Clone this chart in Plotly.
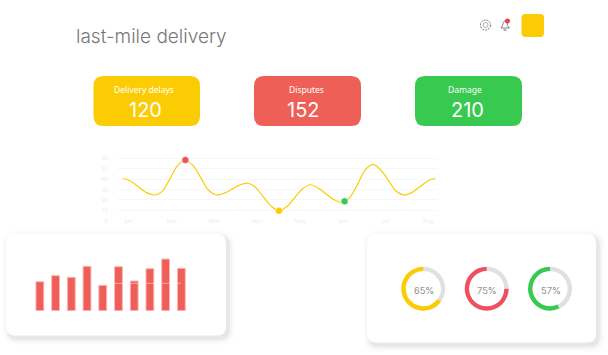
import plotly.graph_objects as go

W, H = 608, 355

# Data
page_title = "last-mile delivery"
kpi_labels = ["Delivery delays", "Disputes", "Damage"]
kpi_values = [120, 152, 210]
kpi_colors = ["#FBCC04", "#EE5F57", "#38C950"]

months = ["Jan", "Feb", "Mar", "Apr", "May", "Jun", "Jul", "Aug"]
# curve at every quarter step
line_x = [0, 0.25, 0.5, 0.75, 1, 1.25, 1.5, 1.75, 2, 2.25, 2.5, 2.75, 3, 3.25, 3.5, 3.75, 4, 4.25, 4.5, 4.75,
          5, 5.25, 5.5, 5.75, 6, 6.25, 6.5, 6.75, 7, 7.25, 7.5, 7.75, 8, 8.25, 8.5, 8.75, 9, 9.25, 9.5, 9.75, 10]
line_values = [40.8, 38, 32.5, 27.2, 24.7, 28, 40, 53, 58.4, 53, 41, 29, 24.7, 26.5, 30.5, 34.5, 36, 32, 23, 14,
               9.6, 13.5, 22, 30.5, 34.6, 31.5, 26, 20.5, 17.7, 22, 34, 48.5, 54.2, 49, 39, 28.5, 24.7, 27, 32.5, 38, 40.8]
highlight_x = [2, 5, 7.1]
highlight_y = [58.4, 9.6, 18.6]
highlight_colors = ["#EE5060", "#FBCC04", "#38C950"]

bar_values = [29, 35, 33.4, 44.4, 25.4, 44, 29.7, 42, 51.7, 42.4]

donut_values = [65, 75, 57]
donut_colors = ["#FBCC04", "#EE5060", "#38C950"]
donut_track = "#E0E0E0"


def px(x):
    return x / W


def py(y):
    return 1 - y / H


def rounded(x0, y0, x1, y1, r):
    a, b, c, d = px(x0), px(x1), py(y0), py(y1)
    rx, ry = r / W, r / H
    return (
        f"M{a+rx},{c} L{b-rx},{c} Q{b},{c} {b},{c-ry} L{b},{d+ry} Q{b},{d} {b-rx},{d} "
        f"L{a+rx},{d} Q{a},{d} {a},{d+ry} L{a},{c-ry} Q{a},{c} {a+rx},{c} Z"
    )


shapes = []


def card(x0, y0, x1, y1, r):
    for grow, alpha in [(7, 0.008), (5, 0.012), (3.5, 0.018), (2, 0.025), (1, 0.03)]:
        shapes.append(dict(type="path", xref="paper", yref="paper", layer="below",
                           path=rounded(x0 - grow + 2.5, y0 - grow + 3, x1 + grow + 2.5, y1 + grow + 3, r + grow),
                           fillcolor=f"rgba(0,0,0,{alpha})", line_width=0))
    shapes.append(dict(type="path", xref="paper", yref="paper", layer="below",
                       path=rounded(x0, y0, x1, y1, r), fillcolor="white", line_width=0))


card(6, 234, 226, 335.5, 9)
card(367, 234, 596, 342.5, 9)


def label(x, y, text, family, size, color, anchor="center", weight=400):
    return dict(x=px(x), y=py(y), text=text, showarrow=False, xanchor=anchor, yanchor="middle",
                xref="paper", yref="paper", font=dict(family=family, size=size, color=color, weight=weight))


kpi_boxes = [(93.5, 200), (254, 361), (415, 522)]
label_shift = [-2.5, -1.3, -3.5]
value_shift = [-1, -4, -1]
annotations = []
for (x0, x1), col, lab, val, ls, vs in zip(kpi_boxes, kpi_colors, kpi_labels, kpi_values, label_shift, value_shift):
    shapes.append(dict(type="path", xref="paper", yref="paper", layer="below",
                       path=rounded(x0, 76, x1, 126, 10), fillcolor=col, line_width=0))
    cx = (x0 + x1) / 2
    annotations.append(label(cx + ls, 89.5, lab, "Noto Sans", 8.5, "white"))
    annotations.append(label(cx + vs, 110, str(val), "Inter", 20, "white"))

annotations.append(label(73.5, 37, page_title, "Inter", 19, "#777777", "left", 300))

# Header decorations
shapes.append(dict(type="path", xref="paper", yref="paper", layer="below",
                   path=rounded(521.5, 14, 544, 37, 4), fillcolor="#FBCC04", line_width=0))
shapes.append(dict(type="circle", xref="paper", yref="paper",
                   x0=px(480.5), x1=px(490.5), y0=py(20), y1=py(30),
                   line=dict(color="#777777", width=1, dash="2px,1px"), fillcolor="white"))
shapes.append(dict(type="circle", xref="paper", yref="paper",
                   x0=px(483), x1=px(488), y0=py(22.5), y1=py(27.5),
                   line=dict(color="#999999", width=0.8), fillcolor="white"))
bell = (f"M{px(501)},{py(28)} Q{px(503)},{py(26)} {px(503)},{py(23)} "
        f"Q{px(505)},{py(18.5)} {px(507)},{py(23)} Q{px(507)},{py(26)} {px(509.5)},{py(28)} Z")
shapes.append(dict(type="path", xref="paper", yref="paper", path=bell,
                   line=dict(color="#666666", width=0.8), fillcolor="white"))
shapes.append(dict(type="line", xref="paper", yref="paper", x0=px(503.5), x1=px(506.5), y0=py(30), y1=py(30),
                   line=dict(color="#666666", width=1)))
shapes.append(dict(type="circle", xref="paper", yref="paper", x0=px(505), x1=px(510), y0=py(18.5), y1=py(23.5),
                   line_width=0, fillcolor="#EE3F50"))

# Faint line across the bars
shapes.append(dict(type="line", xref="paper", yref="paper", layer="above",
                   x0=px(113), x1=px(181), y0=py(283.3), y1=py(283.3),
                   line=dict(color="rgba(255,255,255,0.45)", width=1)))

fig = go.Figure()

# Line chart
fig.add_trace(go.Scatter(x=line_x, y=line_values, mode="lines", xaxis="x", yaxis="y",
                         line=dict(color="#FBCC04", width=1.2, shape="spline", smoothing=1.0),
                         hoverinfo="skip", showlegend=False))
fig.add_trace(go.Scatter(x=highlight_x, y=highlight_y,
                         mode="markers", xaxis="x", yaxis="y",
                         marker=dict(size=7, color=highlight_colors, line=dict(color="rgba(255,255,255,0.5)", width=1)),
                         hoverinfo="skip", showlegend=False))

# Bar chart
fig.add_trace(go.Bar(x=list(range(len(bar_values))), y=bar_values, xaxis="x2", yaxis="y2",
                     width=0.5,
                     marker=dict(color="#EE5F57", line=dict(color="#F9B9B4", width=1)),
                     hoverinfo="skip", showlegend=False))

# Donuts: the track comes first so the coloured arc runs back to twelve o'clock on the left
for cx, v, col in zip((423.3, 486.7, 550), donut_values, donut_colors):
    fig.add_trace(go.Pie(values=[100 - v, v], hole=0.8, sort=False, direction="clockwise",
                         rotation=0, textinfo="none", hoverinfo="skip", showlegend=False,
                         marker=dict(colors=[donut_track, col], line=dict(width=0)),
                         domain=dict(x=[px(cx - 22), px(cx + 22)], y=[py(288.7 + 22), py(288.7 - 22)])))
    annotations.append(label(cx + 0.5, 290, f"{v}%", "Inter", 9.5, "#6E6E6E", weight=300))

tick_font = dict(family="Noto Sans", size=6, color="#EDEDED")
fig.update_layout(
    width=W, height=H, margin=dict(l=0, r=0, t=0, b=0, pad=0, autoexpand=False),
    paper_bgcolor="white", plot_bgcolor="rgba(0,0,0,0)",
    shapes=shapes, annotations=annotations, bargap=0.5,
    xaxis=dict(domain=[px(117), px(437)], range=[-0.19, 10.06], anchor="y",
               tickmode="array", tickvals=[0.19 + 1.37 * i for i in range(len(months))], ticktext=months,
               showgrid=False, zeroline=False, showline=False, ticks="", ticklen=0, tickfont=tick_font,
               ticklabelstandoff=-5),
    yaxis=dict(domain=[py(220.7), py(150)], range=[0, 68], anchor="x",
               tickmode="array", tickvals=[0, 10, 20, 30, 40, 50, 60],
               showgrid=True, gridcolor="#F7F7F7", gridwidth=1, zeroline=False, showline=False,
               tickfont=tick_font, ticklabelstandoff=8),
    xaxis2=dict(domain=[px(32), px(190)], range=[-0.5, 9.55], anchor="y2", visible=False),
    yaxis2=dict(domain=[py(310.7), py(250)], range=[0, 60.7], anchor="x2", visible=False),
)

fig.write_html("out.html", config={"displayModeBar": False},
               post_script="document.body.style.margin='0';document.body.style.overflow='hidden';")
